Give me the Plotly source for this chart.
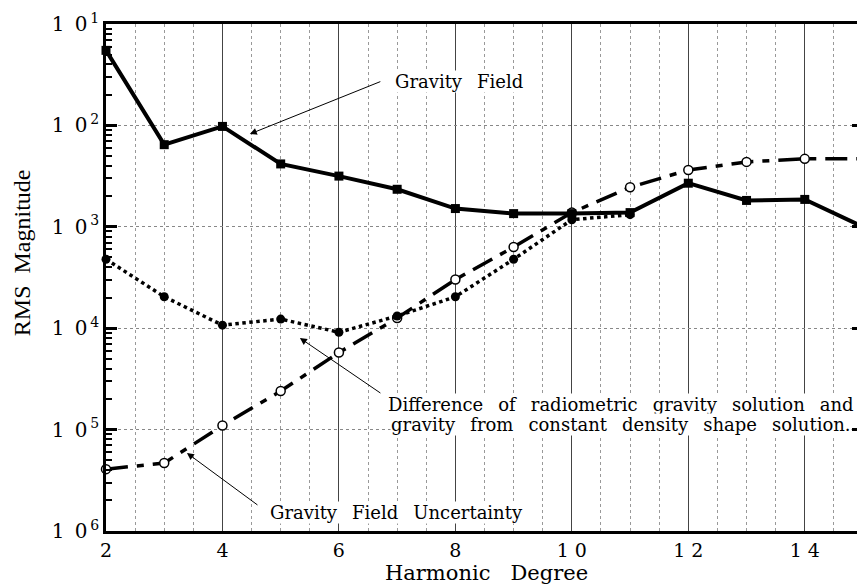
import plotly.graph_objects as go

# --- data (RMS magnitude as 10^-e, e listed) ---
degree = [2, 3, 4, 5, 6, 7, 8, 9, 10, 11, 12, 13, 14, 15]
field_exp = [1.26, 2.19, 2.01, 2.38, 2.50, 2.63, 2.82, 2.87, 2.87, 2.86, 2.57, 2.74, 2.73, 3.00]
diff_deg = [2, 3, 4, 5, 6, 7, 8, 9, 10, 11]
diff_exp = [3.32, 3.69, 3.97, 3.91, 4.04, 3.88, 3.69, 3.32, 2.93, 2.88]
unc_exp = [5.39, 5.33, 4.96, 4.62, 4.24, 3.90, 3.52, 3.20, 2.86, 2.61, 2.44, 2.36, 2.33, 2.33]

y_exps = [1, 2, 3, 4, 5, 6]
x_ticks = [2, 4, 6, 8, 10, 12, 14]
x_labels = ["2", "4", "6", "8", "1 0", "1 2", "1 4"]

field = [10 ** -e for e in field_exp]
diff = [10 ** -e for e in diff_exp]
unc = [10 ** -e for e in unc_exp]

FONT = "DejaVu Serif"


def spaced(s, gap="\u00a0\u00a0\u2009"):
    # scanned lettering has wide word gaps
    return s.replace(" ", gap)


fig = go.Figure()

fig.add_trace(go.Scatter(x=degree, y=unc, mode="lines+markers",
                         line=dict(color="black", width=3.5, dash="22px,9px,7px,9px"),
                         marker=dict(symbol="circle", size=9, color="white",
                                     line=dict(color="black", width=1.5)),
                         cliponaxis=False))
fig.add_trace(go.Scatter(x=diff_deg, y=diff, mode="lines+markers",
                         line=dict(color="black", width=3.5, dash="dot"),
                         marker=dict(symbol="circle", size=9, color="black"),
                         cliponaxis=False))
fig.add_trace(go.Scatter(x=degree, y=field, mode="lines+markers",
                         line=dict(color="black", width=4),
                         marker=dict(symbol="square", size=9, color="black"),
                         cliponaxis=False))

minor_vals = [m * 10 ** -e for e in range(2, 7) for m in range(2, 10)]

fig.update_xaxes(range=[2, 15], tickmode="array", tickvals=x_ticks, ticktext=x_labels,
                 ticks="", showline=True, linecolor="black", linewidth=2.5, mirror=True,
                 showgrid=True, gridcolor="#444", gridwidth=1,
                 minor=dict(dtick=0.5, tick0=2, showgrid=True, gridcolor="#999",
                            griddash="dot", gridwidth=1),
                 tickfont=dict(family=FONT, size=19, color="black"),
                 automargin=False, zeroline=False)

fig.update_yaxes(type="log", range=[-6, -1], tickmode="array",
                 tickvals=[10 ** -e for e in y_exps],
                 ticktext=["1\u00a0\u20090<sup>\u2009%d</sup>" % e for e in y_exps],
                 ticks="inside", ticklen=11, tickwidth=2.5, tickcolor="black",
                 showline=True, linecolor="black", linewidth=2.5, mirror="allticks",
                 showgrid=True, gridcolor="#888", griddash="dot", gridwidth=1,
                 minor=dict(tickmode="array", tickvals=minor_vals, ticks="inside",
                            ticklen=6, tickwidth=2, tickcolor="black", showgrid=False),
                 tickfont=dict(family=FONT, size=20, color="black"),
                 automargin=False, zeroline=False)

# axis titles
fig.add_annotation(xref="paper", yref="paper", x=0, y=0.548, xshift=-84,
                   xanchor="center", yanchor="middle",
                   text=spaced("RMS Magnitude", "\u00a0\u00a0"), textangle=-90,
                   showarrow=False, font=dict(family="Liberation Serif", size=24, color="black"))
fig.add_annotation(xref="paper", yref="paper", x=0.502, y=0, yshift=-42,
                   xanchor="center", yanchor="middle",
                   text=spaced("Harmonic Degree", "\u00a0\u00a0\u00a0"),
                   showarrow=False, font=dict(family=FONT, size=21, color="black"))

ann_font = dict(family=FONT, size=18, color="black")
fig.add_annotation(x=4.47, y=-2.085, ax=132, ay=-53, text="", showarrow=True,
                   arrowhead=2, arrowsize=1.4, arrowwidth=1, arrowcolor="black")
fig.add_annotation(x=6.95, y=-1.57, text=spaced("Gravity Field"), showarrow=False,
                   xanchor="left", font=ann_font, bgcolor="white", borderpad=0)
fig.add_annotation(x=5.33, y=-4.097, ax=82, ay=56, text="", showarrow=True,
                   arrowhead=2, arrowsize=1.4, arrowwidth=1, arrowcolor="black")
fig.add_annotation(x=6.82, y=-4.757,
                   text=spaced("Difference of radiometric gravity solution and"),
                   showarrow=False, xanchor="left", font=ann_font,
                   bgcolor="white", borderpad=0)
fig.add_annotation(x=6.87, y=-4.945,
                   text=spaced("gravity from constant density shape solution."),
                   showarrow=False, xanchor="left", font=ann_font,
                   bgcolor="white", borderpad=0)
fig.add_annotation(x=3.39, y=-5.231, ax=72, ay=53, text="", showarrow=True,
                   arrowhead=2, arrowsize=1.4, arrowwidth=1, arrowcolor="black")
fig.add_annotation(x=4.80, y=-5.82, text=spaced("Gravity Field Uncertainty"), showarrow=False,
                   xanchor="left", font=ann_font, bgcolor="white", borderpad=0)

# page body adds an 8px margin, so the figure is 8px smaller than the window
fig.update_layout(width=857, height=580, showlegend=False,
                  paper_bgcolor="white", plot_bgcolor="white",
                  margin=dict(l=98, r=2, t=16, b=57),
                  font=dict(family=FONT, color="black"))

fig.write_html("out.html")
